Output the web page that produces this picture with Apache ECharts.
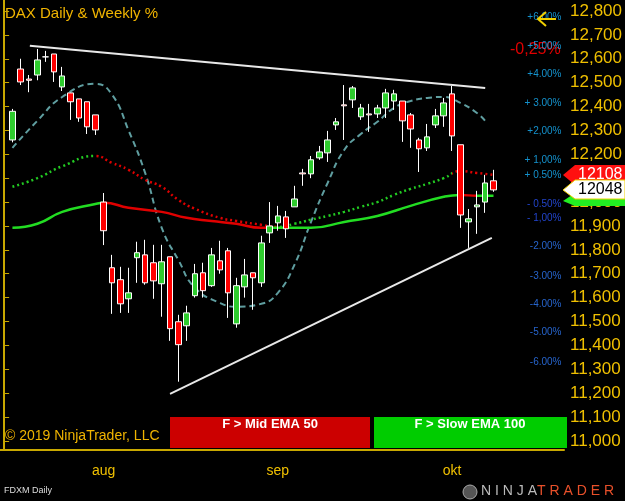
<!DOCTYPE html>
<html><head><meta charset="utf-8">
<script src="https://cdn.jsdelivr.net/npm/echarts@6/dist/echarts.min.js"></script>
<style>html,body{margin:0;padding:0;background:#000}#c{width:625px;height:501px}</style>
</head><body><div id="c"></div>
<script>
// candle data (index 1..59)
var opens  = [12260,12557,12515,12532,12608,12620,12482,12457,12432,12420,12365,12000,11725,11675,11595,11767,11779,11746,11658,11771,11499,11482,11608,11704,11650,11754,11796,11490,11645,11704,11662,11871,11913,11938,11980,12122,12118,12185,12206,12323,12407,12428,12357,12369,12369,12394,12423,12423,12365,12260,12227,12323,12361,12453,12240,11917,11980,12000,12089];
var closes = [12380,12503,12510,12595,12608,12545,12528,12420,12352,12315,12302,11880,11662,11574,11620,11788,11662,11670,11750,11470,11403,11536,11700,11629,11779,11716,11620,11650,11695,11683,11829,11900,11942,11888,12013,12118,12177,12210,12260,12336,12403,12478,12394,12365,12394,12457,12453,12340,12306,12223,12273,12361,12415,12277,11946,11930,11988,12080,12051];
var highs  = [12390,12600,12532,12641,12633,12620,12566,12457,12432,12420,12365,12038,11779,11729,11725,11834,11842,11821,11821,11771,11528,11566,11741,11746,11808,11838,11808,11683,11762,11704,11859,12000,11984,11963,12068,12139,12193,12235,12298,12352,12490,12486,12411,12411,12407,12474,12470,12423,12373,12269,12327,12390,12436,12486,12240,11971,12047,12114,12135];
var lows   = [12250,12490,12460,12510,12587,12503,12465,12344,12336,12285,12281,11820,11532,11536,11536,11662,11654,11595,11520,11419,11248,11419,11600,11600,11645,11700,11515,11474,11600,11549,11645,11829,11880,11850,11980,12068,12100,12177,12168,12302,12260,12394,12344,12294,12352,12352,12386,12252,12227,12126,12214,12310,12315,12214,11892,11808,11867,11955,12043];
var monthLabels = {12:'aug', 33:'sep', 54:'okt'};
var tealIdx = [1,4,7,11,13,15,17,19,21,23,26,28,31,33,35,37,39,41,43,45,47,49,51,53,55,57,58];
var tealVal = [12227,12340,12440,12495,12450,12300,12122,11892,11758,11641,11578,11562,11574,11620,11737,11917,12080,12218,12285,12336,12394,12423,12436,12440,12415,12373,12340];
var ema50Idx = [1,4,7,11,13,15,17,19,21,23,26,28,31,33,35,37,39,41,43,45,47,49,51,53,55,57,59];
var ema50Val = [12064,12100,12150,12193,12164,12135,12093,12064,12009,11972,11934,11921,11905,11896,11909,11926,11942,11959,11980,12000,12030,12055,12076,12100,12130,12122,12114];
var ema100Idx = [1,4,7,11,12,15,19,22,25,28,31,33,37,41,45,49,53,55,57,59];
var ema100Val = [11892,11909,11959,11992,11997,11976,11959,11934,11921,11909,11892,11892,11892,11917,11942,11984,12022,12030,12026,12026];
var upperTrend = [[3.1,12654],[58,12478]];
var lowerTrend = [[20,11197],[58.8,11850]];
var pctText  = ['+6.00%','+5.00%','+4.00%','+ 3.00%','+2,00%','+ 1,00%','+ 0.50%','- 0.50%','- 1,00%','-2.00%','-3.00%','-4.00%','-5.00%','-6.00%'];
var pctPrice = [12775,12654,12536,12415,12298,12177,12114,11992,11934,11813,11691,11574,11453,11331];
var pctColor = ['#19b5ff','#19b5ff','#19b5ff','#19b5ff','#19b5ff','#19b5ff','#19b5ff','#2b55ff','#2b55ff','#2f7dff','#2f7dff','#2f7dff','#2f7dff','#2f7dff'];

var N = 68;
var cats = [], cdata = [];
for (var i = 0; i < N; i++) { cats.push(String(i)); }
cdata.push('-');
for (var k = 0; k < opens.length; k++) cdata.push([opens[k], closes[k], lows[k], highs[k]]);
function zip(a, b) { return a.map(function (x, j) { return [x, b[j]]; }); }

var chart = echarts.init(document.getElementById('c'));
var gold = '#f0c000';
chart.setOption({
  backgroundColor: '#000',
  animation: false,
  grid: {left: 0, right: 55, top: 0, bottom: 51},
  xAxis: [{
    type: 'category', data: cats, boundaryGap: true,
    axisLine: {lineStyle: {color: '#c8a800', width: 2}},
    axisTick: {alignWithLabel: true, length: 5, lineStyle: {color: '#c8a800'}, interval: function (i) { return monthLabels[i] !== undefined; }},
    axisLabel: {color: gold, fontSize: 14, margin: 14, fontFamily: 'Liberation Sans', interval: function (i) { return monthLabels[i] !== undefined; }, formatter: function (v, i) { return monthLabels[i] || ''; }},
    splitLine: {show: false}
  }, {
    type: 'value', min: -0.5, max: N - 0.5, show: false
  }],
  yAxis: {
    type: 'value', position: 'right', min: 10962, max: 12846, minInterval: 100, maxInterval: 100,
    axisLine: {show: true, lineStyle: {color: '#c8a800', width: 2}},
    axisTick: {show: true, length: 5, lineStyle: {color: '#c8a800'}},
    axisLabel: {color: gold, fontSize: 17, margin: 6, fontFamily: 'Liberation Sans'},
    splitLine: {show: false}
  },
  visualMap: [
    {show: false, type: 'piecewise', seriesIndex: 3, dimension: 0, pieces: [{lt: 11, color: '#22cc22'}, {gte: 11, lt: 33, color: '#e00000'}, {gte: 33, lt: 54, color: '#22cc22'}, {gte: 54, color: '#e00000'}]},
    {show: false, type: 'piecewise', seriesIndex: 4, dimension: 0, pieces: [{lt: 12, color: '#22dd22'}, {gte: 12, lt: 32, color: '#e00000'}, {gte: 32, lt: 55, color: '#22dd22'}, {gte: 55, lt: 57, color: '#e00000'}, {gte: 57, color: '#22dd22'}]}
  ],
  series: [
    {type: 'line', xAxisIndex: 1, data: upperTrend, symbol: 'none', lineStyle: {color: '#e8e8e8', width: 2}, z: 1},
    {type: 'line', xAxisIndex: 1, data: lowerTrend, symbol: 'none', lineStyle: {color: '#e8e8e8', width: 2}, z: 1},
    {type: 'line', xAxisIndex: 1, data: zip(tealIdx, tealVal), smooth: true, symbol: 'none', lineStyle: {color: '#5f9ea0', width: 2, type: [6, 4]}, z: 2},
    {type: 'line', xAxisIndex: 1, data: zip(ema50Idx, ema50Val), smooth: true, symbol: 'none', lineStyle: {width: 2.5, type: [2, 3]}, z: 2},
    {type: 'line', xAxisIndex: 1, data: zip(ema100Idx, ema100Val), smooth: true, symbol: 'none', lineStyle: {width: 2.5}, z: 2},
    {type: 'candlestick', data: cdata, barWidth: 6, z: 5,
      itemStyle: {color: '#2ecc2e', color0: '#ff0000', borderColor: '#ffffff', borderColor0: '#ffffff', borderWidth: 1}},
    {type: 'scatter', xAxisIndex: 1, symbolSize: 0, z: 6, silent: true,
      data: pctPrice.map(function (p, j) { return {value: [67.2, p], label: {formatter: pctText[j], color: pctColor[j]}}; }),
      label: {show: true, position: 'left', distance: 0, fontSize: 10, fontFamily: 'Liberation Sans'}}
  ],
  graphic: [
    {type: 'text', left: 5, top: 6, style: {text: 'DAX Daily & Weekly %', fill: '#f0b400', font: '15px "Liberation Sans"'}},
    {type: 'text', left: 5, top: 429, style: {text: '\u00a9 2019 NinjaTrader, LLC', fill: '#f0b400', font: '14px "Liberation Sans"'}},
    {type: 'text', left: 510, top: 42, style: {text: '-0,25%', fill: '#e00000', font: '16px "Liberation Sans"'}},
    {type: 'polyline', shape: {points: [[546, 12], [538, 19], [546, 26]]}, style: {stroke: '#f0d000', lineWidth: 2, fill: null}, z: 10},
    {type: 'line', shape: {x1: 538, y1: 19, x2: 556, y2: 19}, style: {stroke: '#f0d000', lineWidth: 2}, z: 10},
    {type: 'rect', shape: {x: 170, y: 417, width: 200, height: 31}, style: {fill: '#cc0000'}},
    {type: 'text', x: 270, y: 418, style: {text: 'F > Mid EMA 50', fill: '#fff', font: 'bold 13px "Liberation Sans"', textAlign: 'center'}},
    {type: 'rect', shape: {x: 374, y: 417, width: 193, height: 31}, style: {fill: '#00cc00'}},
    {type: 'text', x: 470, y: 418, style: {text: 'F > Slow EMA 100', fill: '#fff', font: 'bold 13px "Liberation Sans"', textAlign: 'center'}},
    {type: 'polygon', shape: {points: [[563, 201], [575, 193], [625, 193], [625, 206], [575, 206]]}, style: {fill: '#22ee22'}, z: 20},
    {type: 'polygon', shape: {points: [[563, 175], [575, 165], [625, 165], [625, 185], [575, 185]]}, style: {fill: '#ff1010'}, z: 20},
    {type: 'text', x: 578, y: 167, style: {text: '12108', fill: '#fff', font: '16px "Liberation Sans"'}, z: 21},
    {type: 'polygon', shape: {points: [[563, 190], [575, 180], [625, 180], [625, 199], [575, 199]]}, style: {fill: '#fff', stroke: '#f0d000', lineWidth: 1}, z: 22},
    {type: 'text', x: 578, y: 182, style: {text: '12048', fill: '#000', font: '16px "Liberation Sans"'}, z: 23},
    {type: 'text', left: 4, top: 486, style: {text: 'FDXM Daily', fill: '#ddd', font: '9px "Liberation Sans"'}},
    {type: 'circle', shape: {cx: 470, cy: 492, r: 7}, style: {fill: '#555', stroke: '#aaa', lineWidth: 1}},
    {type: 'text', left: 481, top: 484, style: {rich: {a: {fill: '#bbbbbb', font: '14px "Liberation Sans"'}, b: {fill: '#e8502a', font: '14px "Liberation Sans"'}}, text: '{a|N I N J A}{b|T R A D E R}'}}
  ]
});
</script></body></html>
